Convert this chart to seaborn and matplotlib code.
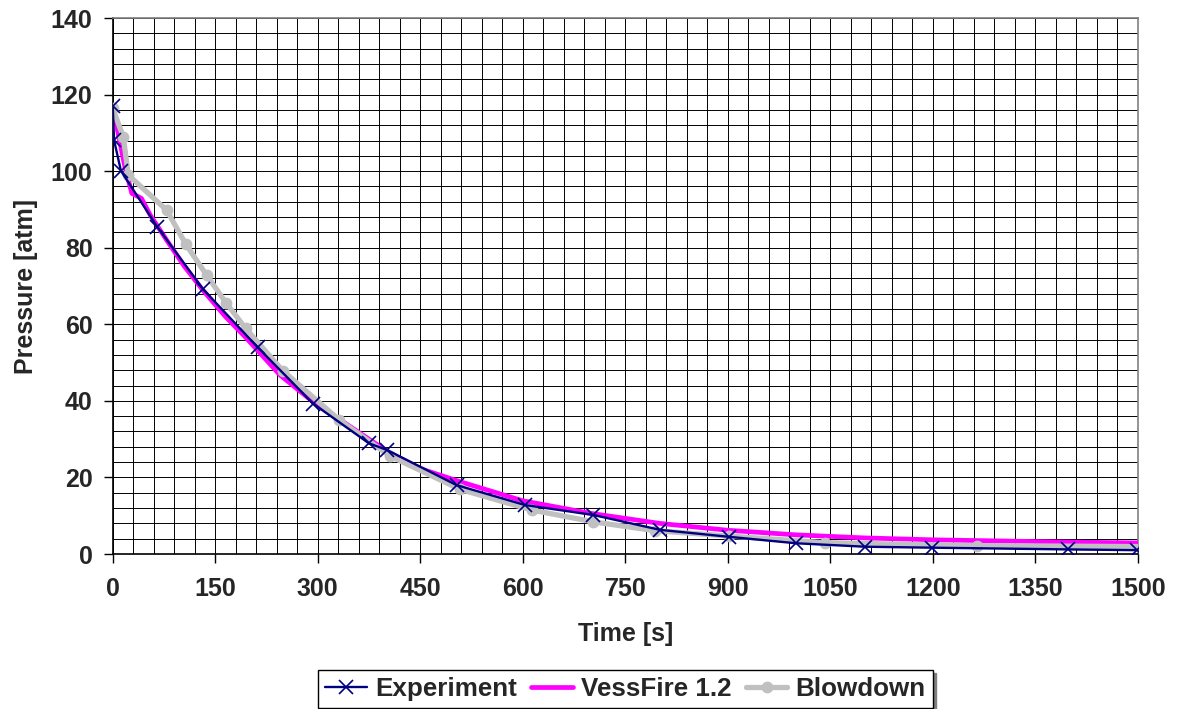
import numpy as np
import pandas as pd
import matplotlib
matplotlib.use("Agg")
import matplotlib.pyplot as plt
from matplotlib.ticker import MultipleLocator
import seaborn as sns

# ---- data ----
exp_t = [0, 2, 12, 65, 132, 212, 293, 375, 401, 503, 603, 703, 801, 901, 1000, 1101, 1199, 1398, 1498]
exp_p = [117.0, 108.1, 100.1, 85.5, 69.2, 54.0, 39.3, 28.9, 27.2, 18.0, 12.8, 10.2, 6.3, 4.5, 2.8, 1.9, 1.65, 1.2, 1.0]

ves_t = [0, 8, 18, 28, 42, 55, 80, 105, 132, 165, 196, 245, 290, 333, 406, 450, 508,
         600, 700, 800, 900, 1000, 1100, 1200, 1300, 1400, 1500]
ves_p = [117.0, 109.8, 101.0, 94.2, 92.9, 88.5, 81.7, 75.1, 68.9, 62.0, 56.3, 46.7, 40.2, 35.0, 26.3, 22.3, 18.9,
         13.9, 10.6, 8.0, 6.2, 5.0, 4.2, 3.7, 3.4, 3.1, 2.9]

blow_t = [0, 15.5, 22.8, 79, 107, 137.5, 165.8, 194.6, 248.7, 331.5, 405.7, 508, 613, 703, 793, 901, 1041.5, 1264, 1530]
blow_p = [116.4, 109.0, 99.0, 89.8, 80.9, 72.8, 65.6, 58.9, 47.9, 35.0, 25.6, 16.9, 11.5, 8.4, 6.1, 4.7, 2.95, 2.2, 1.9]

series_names = ["Experiment", "VessFire 1.2", "Blowdown"]
x_label = "Time [s]"
y_label = "Pressure [atm]"

sns.set_theme(style="white")
plt.rcParams["font.family"] = ["Liberation Sans", "DejaVu Sans"]
plt.rcParams["font.weight"] = "bold"

fig = plt.figure(figsize=(11.77, 7.09), dpi=100)
ax = fig.add_axes([112.7 / 1177, 1 - 554 / 709, (1138 - 112.7) / 1177, (554 - 18) / 709])

df_exp = pd.DataFrame({"t": exp_t, "p": exp_p})
df_ves = pd.DataFrame({"t": ves_t, "p": ves_p})
df_blow = pd.DataFrame({"t": blow_t, "p": blow_p})

sns.lineplot(data=df_ves, x="t", y="p", ax=ax, sort=False, estimator=None,
             color="#FF00FF", lw=3.4, label=series_names[1], zorder=3)
sns.lineplot(data=df_blow, x="t", y="p", ax=ax, sort=False, estimator=None,
             color="#C0C0C0", lw=3.8, marker="o", markersize=8.5, markeredgewidth=0,
             markerfacecolor="#C0C0C0", label=series_names[2], zorder=4)
sns.lineplot(data=df_exp, x="t", y="p", ax=ax, sort=False, estimator=None,
             color="#000080", lw=1.7, marker="x", markersize=9.5, markeredgewidth=1.2,
             markeredgecolor="#000080", label=series_names[0], zorder=5)

ax.set_xlim(0, 1500)
ax.set_ylim(0, 140)
ax.xaxis.set_major_locator(MultipleLocator(150))
ax.xaxis.set_minor_locator(MultipleLocator(30))
ax.yaxis.set_major_locator(MultipleLocator(20))
ax.yaxis.set_minor_locator(MultipleLocator(4))
ax.grid(which="both", color="black", lw=0.7, zorder=0)
ax.set_axisbelow(True)

ax.tick_params(which="major", direction="out", length=6.5, width=1, color="black",
               labelsize=18, bottom=True, left=True)
ax.tick_params(axis="x", which="major", pad=10)
ax.tick_params(axis="y", which="major", pad=8)
ax.tick_params(which="minor", length=0)
for lab in ax.get_xticklabels() + ax.get_yticklabels():
    lab.set_fontweight("bold")

for s in ["left", "bottom"]:
    ax.spines[s].set_color("black")
    ax.spines[s].set_linewidth(1.2)
for s in ["top", "right"]:
    ax.spines[s].set_color("#808080")
    ax.spines[s].set_linewidth(1.2)

ax.set_xlabel(x_label, fontsize=18, fontweight="bold")
ax.set_ylabel(y_label, fontsize=18, fontweight="bold")
ax.xaxis.set_label_coords(0.5, -0.126)
ax.yaxis.set_label_coords(-0.073, 0.5)

handles, labels = ax.get_legend_handles_labels()
order = [labels.index(n) for n in series_names]
handles = [handles[i] for i in order]
labels = [labels[i] for i in order]
ax.legend_.remove()
leg = fig.legend(handles, labels, loc="center", bbox_to_anchor=(625.5 / 1177, 1 - 689 / 709),
                 ncol=3, frameon=True, fancybox=False, shadow={"color": "#808080", "alpha": 1},
                 edgecolor="black", framealpha=1, prop={"size": 18.7, "weight": "bold"},
                 handlelength=1.6, handletextpad=0.32, columnspacing=0.55, borderpad=0.28,
                 borderaxespad=0)
leg.get_frame().set_linewidth(1.0)

fig.savefig("out.png", dpi=100)
